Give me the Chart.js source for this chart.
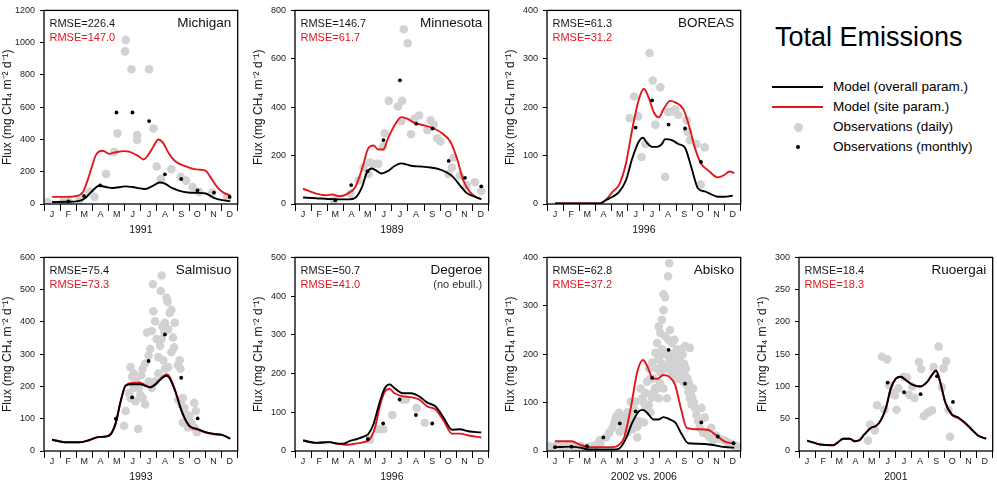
<!DOCTYPE html>
<html>
<head>
<meta charset="utf-8">
<script src="https://cdn.jsdelivr.net/npm/chart.js@4.4.0/dist/chart.umd.min.js"></script>
<style>
  body { margin: 0; background: #fff; width: 997px; height: 496px; position: relative; overflow: hidden;
         font-family: "Liberation Sans", Arial, sans-serif; }
  canvas { position: absolute; }
  .lg-title { position: absolute; left: 775px; top: 24px; font-size: 27px; line-height: 27px; color: #000; white-space: nowrap; }
  .lg-text { position: absolute; left: 833px; font-size: 13.5px; line-height: 20px; color: #000; white-space: nowrap; }
  .lg-line { position: absolute; left: 772px; width: 51px; height: 2px; }
  .lg-dot { position: absolute; border-radius: 50%; }
</style>
</head>
<body>
<canvas id="c1" width="242" height="240" style="left:0px;top:0px"></canvas>
<canvas id="c2" width="242" height="240" style="left:251px;top:0px"></canvas>
<canvas id="c3" width="242" height="240" style="left:503px;top:0px"></canvas>
<canvas id="c5" width="242" height="240" style="left:0px;top:247px"></canvas>
<canvas id="c6" width="242" height="240" style="left:251px;top:247px"></canvas>
<canvas id="c7" width="242" height="240" style="left:503px;top:247px"></canvas>
<canvas id="c8" width="242" height="240" style="left:755px;top:247px"></canvas>

<div class="lg-title">Total Emissions</div>
<div class="lg-line" style="top:86px;background:#000"></div>
<div class="lg-text" style="top:77px">Model (overall param.)</div>
<div class="lg-line" style="top:106px;background:#e2161d"></div>
<div class="lg-text" style="top:97px">Model (site param.)</div>
<div class="lg-dot" style="left:793.5px;top:122.5px;width:9px;height:9px;background:#d2d2d2"></div>
<div class="lg-text" style="top:117px">Observations (daily)</div>
<div class="lg-dot" style="left:796px;top:145px;width:4px;height:4px;background:#000"></div>
<div class="lg-text" style="top:137px">Observations (monthly)</div>

<script>
// month letters, x values are in months (0 = 1 Jan, 12 = 31 Dec)
var monthLabels = ["J", "F", "M", "A", "M", "J", "J", "A", "S", "O", "N", "D"];
var fluxTitle = "Flux (mg CH\u2084 m\u207B\u00B2 d\u207B\u00B9)";
var redColor = "#e2161d";

// ---- Michigan 1991
var michiganOverall = [[0.5,12],[1.41,14],[2.12,18],[2.52,34],[2.93,75],[3.43,113],[3.84,105],[4.24,99],[5.06,109],[5.46,105],[6.07,95],[6.27,93],[6.68,109],[7.18,133],[7.49,127],[7.89,101],[8.3,85],[8.91,71],[9.51,69],[10.02,65],[10.53,38],[11.03,24],[11.54,18]];
var michiganSite = [[0.5,44],[1.41,44],[2.02,50],[2.42,75],[2.83,186],[3.23,306],[3.64,330],[4.04,311],[4.45,321],[4.95,328],[5.36,321],[5.86,296],[6.17,276],[6.47,306],[6.78,357],[7.08,400],[7.39,377],[7.71,317],[8.11,266],[8.71,236],[9.31,216],[9.72,212],[10.02,206],[10.32,165],[10.73,105],[11.14,69],[11.54,54]];
var michiganDaily = [[0.19,10],[1.2,14],[1.51,18],[2.22,28],[2.83,75],[3.13,44],[3.84,186],[4.55,438],[4.35,323],[5.02,946],[5.06,1017],[5.42,835],[5.77,428],[5.77,397],[6.51,835],[6.78,468],[6.98,232],[7.24,155],[7.89,216],[8.46,169],[8.8,145],[9.21,105],[9.61,75],[10.43,71],[11.34,40]];
var michiganMonthly = [[1.51,16],[2.48,50],[3.48,115],[4.49,567],[5.48,567],[6.51,514],[7.49,184],[8.5,155],[9.51,85],[10.53,71],[11.5,44]];

// ---- Minnesota 1989
var minnesotaOverall = [[0.5,27],[1.31,24],[2.32,20],[3.34,19],[3.74,26],[4.15,70],[4.45,130],[4.75,147],[5.06,137],[5.36,126],[5.77,137],[6.17,157],[6.58,168],[6.88,164],[7.29,157],[7.79,155],[8.4,151],[8.91,144],[9.41,130],[9.82,110],[10.22,77],[10.63,46],[11.14,30],[11.54,20]];
var minnesotaSite = [[0.5,63],[1.31,43],[1.92,36],[2.32,39],[2.73,32],[3.34,46],[3.74,70],[4.15,144],[4.55,231],[4.86,242],[5.16,225],[5.46,225],[5.77,272],[6.17,325],[6.58,359],[6.98,352],[7.39,335],[8.0,325],[8.6,312],[9.11,292],[9.62,258],[10.02,191],[10.43,97],[10.83,50],[11.24,27],[11.54,20]];
var minnesotaDaily = [[2.42,16],[3.44,43],[3.94,97],[4.25,151],[4.55,124],[4.65,171],[4.86,164],[5.16,167],[5.46,238],[5.56,292],[5.81,426],[6.38,403],[6.58,342],[6.64,426],[6.74,722],[6.98,664],[7.19,288],[7.39,352],[7.69,366],[8.2,305],[8.4,346],[8.6,328],[8.81,272],[9.01,258],[9.52,124],[9.72,151],[9.82,191],[10.22,117],[10.63,77],[11.14,90],[11.54,54]];
var minnesotaMonthly = [[2.49,16],[3.48,78],[4.49,135],[5.48,264],[6.5,511],[7.51,332],[8.52,312],[9.52,178],[10.53,108],[11.54,73]];

// ---- BOREAS 1996
var boreasOverall = [[0.5,1],[3.25,1],[3.66,8],[4.06,15],[4.47,25],[4.88,48],[5.29,95],[5.69,129],[5.94,137],[6.2,126],[6.51,118],[6.82,118],[7.12,124],[7.32,134],[7.73,132],[8.14,124],[8.55,116],[8.95,75],[9.36,32],[9.77,26],[10.18,20],[10.58,15],[10.99,15],[11.5,17]];
var boreasSite = [[0.5,1],[3.25,1],[3.66,9],[4.06,25],[4.47,40],[4.88,82],[5.29,156],[5.69,216],[6.0,238],[6.31,219],[6.61,190],[6.92,179],[7.22,196],[7.63,213],[7.94,210],[8.44,196],[8.85,156],[9.16,116],[9.57,82],[9.97,70],[10.58,55],[10.99,60],[11.3,67],[11.6,64]];
var boreasDaily = [[5.12,177],[5.39,222],[5.65,181],[5.86,97],[6.1,124],[6.35,312],[6.55,255],[6.71,164],[7.02,241],[7.32,56],[7.49,190],[7.73,191],[7.94,195],[8.14,184],[8.65,173],[8.71,149],[8.85,132],[9.26,124],[9.52,40],[9.77,117]];
var boreasMonthly = [[5.49,158],[6.51,214],[7.53,164],[8.55,156],[9.54,87]];

// ---- Salmisuo 1993
var salmisuoOverall = [[0.5,35],[1.41,27],[2.22,27],[2.83,34],[3.34,43],[3.84,45],[4.15,53],[4.45,88],[4.75,154],[5.06,203],[5.46,207],[5.97,207],[6.27,202],[6.58,197],[6.88,205],[7.29,225],[7.59,233],[7.79,225],[8.1,189],[8.6,114],[9.01,78],[9.52,68],[10.02,58],[10.53,53],[11.04,50],[11.54,38]];
var salmisuoSite = [[0.5,35],[1.41,27],[2.22,27],[2.83,34],[3.34,43],[3.84,45],[4.15,53],[4.45,88],[4.75,154],[5.06,203],[5.46,211],[5.97,212],[6.27,204],[6.58,198],[6.88,207],[7.29,228],[7.59,238],[7.79,229],[8.1,192],[8.6,114],[9.01,76],[9.52,66],[10.02,57],[10.53,52],[11.04,49],[11.54,38]];
var salmisuoDaily = [[4.96,78],[5.06,124],[5.36,260],[5.46,230],[5.56,240],[5.26,179],[5.36,164],[5.67,154],[5.83,68],[5.56,195],[5.71,215],[5.87,195],[5.97,174],[6.11,164],[6.27,144],[6.03,235],[6.11,255],[6.27,271],[6.48,296],[6.58,316],[6.38,367],[6.68,372],[6.88,402],[6.78,433],[6.74,517],[6.98,347],[7.08,291],[7.19,326],[7.29,347],[7.33,387],[7.45,369],[7.49,397],[7.59,475],[7.65,463],[7.23,496],[7.29,544],[7.79,428],[7.89,438],[7.99,352],[8.1,397],[8.06,321],[7.89,306],[7.69,377],[7.69,260],[7.49,255],[7.39,281],[7.08,240],[6.88,215],[6.48,215],[6.68,195],[8.3,266],[8.4,281],[8.46,255],[8.6,164],[8.3,159],[8.5,144],[8.7,134],[8.81,114],[8.6,88],[9.01,108],[9.31,149],[9.41,124],[9.31,73],[9.47,58],[9.11,88],[8.91,73]];
var salmisuoMonthly = [[4.45,100],[5.46,166],[6.48,279],[7.49,361],[8.5,227],[9.52,101]];

// ---- Degeroe 1996
var degeroeOverall = [[0.5,27],[1.31,21],[2.12,23],[2.63,19],[3.03,19],[3.34,25],[3.84,31],[4.25,37],[4.55,44],[4.86,69],[5.26,128],[5.56,162],[5.87,172],[6.17,162],[6.68,149],[7.19,149],[7.69,141],[8.2,125],[8.71,115],[9.21,86],[9.72,55],[10.22,56],[10.73,51],[11.54,48]];
var degeroeSite = [[0.5,27],[1.31,21],[2.12,23],[2.63,19],[3.13,16],[3.74,19],[4.25,23],[4.65,31],[4.96,61],[5.26,116],[5.56,153],[5.87,160],[6.17,149],[6.68,141],[7.19,139],[7.69,133],[8.2,115],[8.71,107],[9.21,78],[9.72,45],[10.22,45],[10.73,40],[11.54,35]];
var degeroeDaily = [[4.65,29],[5.16,56],[5.46,56],[6.03,93],[6.68,133],[6.88,133],[7.53,111],[8.04,73]];
var degeroeMonthly = [[4.51,31],[5.46,71],[6.48,133],[7.49,93],[8.5,71]];

// ---- Abisko 2002 vs. 2006
var abiskoOverall = [[0.5,8],[1.52,9],[2.03,7],[2.64,3],[3.25,3],[4.06,3],[4.47,5],[4.88,25],[5.29,59],[5.69,82],[5.94,85],[6.2,79],[6.61,65],[6.92,65],[7.22,70],[7.63,65],[7.94,59],[8.34,35],[8.75,16],[9.36,15],[10.18,13],[10.79,9],[11.6,7]];
var abiskoSite = [[0.5,20],[1.21,20],[1.52,20],[2.03,13],[2.64,8],[3.25,8],[4.06,8],[4.47,13],[4.78,28],[5.19,89],[5.59,163],[5.94,188],[6.2,176],[6.51,152],[6.82,149],[7.22,157],[7.63,152],[7.94,136],[8.34,82],[8.65,48],[9.36,45],[9.97,44],[10.38,35],[10.99,20],[11.6,15]];
var abiskoDaily = [[0.1,10],[0.3,8],[0.6,12],[0.9,9],[1.2,10],[1.5,11],[1.8,8],[2.1,10],[2.4,7],[2.7,9],[3.0,12],[3.3,15],
  [3.25,22],[3.66,28],[3.86,38],[4.06,48],[4.17,59],[4.27,69],[4.37,75],[4.47,79],[4.68,62],[4.88,48],[4.98,38],[5.19,59],[5.29,75],[5.19,102],[5.49,102],[5.59,28],[5.45,59],[5.69,62],
  [4.5,40],[4.6,55],[4.8,70],[5.0,80],[5.1,65],[5.3,45],[5.4,85],[5.6,50],
  [5.8,129],[5.9,109],[6.1,89],[6.0,59],[6.2,143],[6.31,170],[6.41,149],[6.51,183],[6.61,122],[6.71,203],[6.82,223],[6.92,257],[7.02,244],[7.12,271],[7.22,291],[7.22,324],[7.32,318],[7.57,388],[7.5,361],[7.32,237],[7.12,210],[7.02,163],[6.88,129],[6.92,109],[7.22,129],[7.43,109],
  [6.0,100],[6.1,120],[6.3,95],[6.4,80],[6.5,110],[6.6,150],[6.7,130],[6.8,170],[6.9,190],[7.0,140],[7.1,180],[7.2,200],[7.3,170],[7.4,200],[7.5,180],[7.6,190],[7.7,200],[7.8,170],[7.9,230],[8.0,180],[8.1,150],[8.2,190],[8.4,200],[8.5,180],[8.6,170],[8.7,150],[8.8,140],[8.9,120],[9.0,110],[9.1,100],
  [7.53,230],[7.63,250],[7.73,223],[7.83,197],[7.94,183],[8.04,210],[8.14,203],[8.24,176],[8.34,163],[8.44,143],[8.55,156],[8.65,136],[8.75,122],[8.85,109],[8.95,96],[9.06,129],[9.16,89],[8.14,163],[8.34,210],[8.55,217],[8.85,213],[7.73,163],[7.94,149],
  [9.26,75],[9.36,62],[9.46,48],[9.67,38],[9.87,35],[10.07,28],[10.18,48],[10.28,22],[10.48,32],[10.69,25],[10.99,22],[11.19,18],[11.4,15],[11.7,11],[11.9,8],[9.77,69],[9.57,89],[11.3,12],[11.6,10]];
var abiskoMonthly = [[0.5,8],[1.52,9],[2.48,10],[3.49,28],[4.51,57],[5.49,82],[6.51,151],[7.53,209],[8.55,139],[9.56,59],[10.58,30],[11.56,16]];

// ---- Ruoergai 2001
var ruoergaiOverall = [[0.5,16],[0.91,13],[1.31,10],[2.13,9],[2.44,14],[2.74,19],[3.15,19],[3.45,15],[3.76,17],[4.06,26],[4.47,36],[4.78,39],[5.08,48],[5.39,67],[5.69,97],[6.0,112],[6.31,115],[6.61,110],[7.02,103],[7.53,100],[7.94,107],[8.24,118],[8.49,125],[8.75,107],[9.06,76],[9.46,57],[9.87,52],[10.28,44],[10.69,34],[11.09,24],[11.6,19]];
var ruoergaiSite = [[0.5,16],[0.91,13],[1.31,10],[2.13,9],[2.44,14],[2.74,19],[3.15,19],[3.45,15],[3.76,17],[4.06,26],[4.47,36],[4.78,39],[5.08,48],[5.39,67],[5.69,97],[6.0,112],[6.31,115],[6.61,110],[7.02,103],[7.53,100],[7.94,107],[8.24,118],[8.49,124],[8.75,106],[9.06,75],[9.46,56],[9.87,51],[10.28,43],[10.69,33],[11.09,24],[11.6,19]];
var ruoergaiDaily = [[4.27,16],[4.41,41],[4.7,32],[4.84,71],[5.14,146],[5.47,142],[5.29,64],[5.59,102],[5.8,90],[5.94,86],[6.16,97],[6.04,64],[6.47,115],[6.69,114],[6.82,87],[7.02,100],[7.16,82],[7.43,138],[7.57,127],[7.73,54],[7.94,59],[8.08,61],[8.24,63],[8.34,130],[8.65,162],[8.95,128],[9.12,139],[8.85,99],[9.26,64],[9.36,22]];
var ruoergaiMonthly = [[5.49,106],[6.51,91],[7.53,88],[8.55,116],[9.54,76]];

Chart.defaults.font.family = '"Liberation Sans", Arial, sans-serif';

function toXY(arr) {
    return arr.map(function (p) { return {x: p[0], y: p[1]}; });
}

// box around the plot area + RMSE and site labels
var panelText = {
    id: 'panelText',
    afterDatasetsDraw: function (chart, args, opts) {
        var ctx = chart.ctx;
        var a = chart.chartArea;
        ctx.save();
        ctx.strokeStyle = '#000';
        ctx.lineWidth = 1.3;
        ctx.strokeRect(a.left, a.top, a.right - a.left, a.bottom - a.top);
        ctx.textBaseline = 'middle';
        ctx.font = '11px "Liberation Sans", Arial, sans-serif';
        ctx.fillStyle = '#1a1a1a';
        ctx.fillText(opts.rmse[0], a.left + 5.5, a.top + 14);
        ctx.fillStyle = redColor;
        ctx.fillText(opts.rmse[1], a.left + 5.5, a.top + 27.5);
        ctx.textAlign = 'right';
        ctx.font = '13.5px "Liberation Sans", Arial, sans-serif';
        ctx.fillStyle = '#111';
        ctx.fillText(opts.name, a.right - 6.5, a.top + 12.5);
        if (opts.note) {
            ctx.font = '11px "Liberation Sans", Arial, sans-serif';
            ctx.fillStyle = '#333';
            ctx.fillText(opts.note, a.right - 6.5, a.top + 27.5);
        }
        ctx.restore();
    }
};

var xTickValues = [];
for (var t = 0; t <= 24; t++) xTickValues.push(t / 2);

function createPanel(id, p) {
    return new Chart(document.getElementById(id), {
        type: 'line',
        data: {
            datasets: [
                {type: 'scatter', data: toXY(p.monthly), backgroundColor: '#000', borderWidth: 0, pointRadius: 1.9, showLine: false},
                {data: toXY(p.overall), borderColor: '#000', borderWidth: 1.9, pointRadius: 0, cubicInterpolationMode: 'monotone', fill: false},
                {data: toXY(p.siteParam), borderColor: redColor, borderWidth: 1.9, pointRadius: 0, cubicInterpolationMode: 'monotone', fill: false},
                {type: 'scatter', data: toXY(p.daily), backgroundColor: '#d2d2d2', borderWidth: 0, pointRadius: 4.3, showLine: false}
            ]
        },
        options: {
            responsive: false,
            animation: false,
            events: [],
            layout: {padding: {top: 6, right: 1, left: 0, bottom: 0}},
            plugins: {
                legend: {display: false},
                tooltip: {enabled: false},
                panelText: {rmse: p.rmse, name: p.name, note: p.note}
            },
            scales: {
                x: {
                    type: 'linear', min: 0, max: 12,
                    afterBuildTicks: function (scale) {
                        scale.ticks = xTickValues.map(function (v) { return {value: v}; });
                    },
                    ticks: {
                        autoSkip: false, maxRotation: 0, padding: -2, color: '#222', font: {size: 9},
                        callback: function (v) { return Number.isInteger(v) ? '' : monthLabels[Math.floor(v)]; }
                    },
                    grid: {
                        drawOnChartArea: false, tickLength: 7, tickWidth: 1,
                        tickColor: function (c) { return (c.tick && Number.isInteger(c.tick.value)) ? '#000' : 'rgba(0,0,0,0)'; }
                    },
                    border: {display: false},
                    title: {display: true, text: p.year, color: '#111', font: {size: 10.5}, padding: {top: 0, bottom: 4}},
                    afterFit: function (scale) { scale.height = 36; }
                },
                y: {
                    min: 0, max: p.ymax,
                    ticks: {stepSize: p.step, color: '#222', font: {size: 9}, padding: 5,
                        callback: function (v) { return String(v); }},
                    grid: {drawOnChartArea: false, tickLength: 4, color: '#000'},
                    border: {display: false},
                    title: {display: true, text: fluxTitle, color: '#111', font: {size: 12}, padding: {top: 0, bottom: 0}},
                    afterFit: function (scale) { scale.width = 44; }
                }
            }
        },
        plugins: [panelText]
    });
}

createPanel('c1', {name: 'Michigan', year: '1991', rmse: ['RMSE=226.4', 'RMSE=147.0'], ymax: 1200, step: 200,
    overall: michiganOverall, siteParam: michiganSite, daily: michiganDaily, monthly: michiganMonthly});
createPanel('c2', {name: 'Minnesota', year: '1989', rmse: ['RMSE=146.7', 'RMSE=61.7'], ymax: 800, step: 200,
    overall: minnesotaOverall, siteParam: minnesotaSite, daily: minnesotaDaily, monthly: minnesotaMonthly});
createPanel('c3', {name: 'BOREAS', year: '1996', rmse: ['RMSE=61.3', 'RMSE=31.2'], ymax: 400, step: 100,
    overall: boreasOverall, siteParam: boreasSite, daily: boreasDaily, monthly: boreasMonthly});
createPanel('c5', {name: 'Salmisuo', year: '1993', rmse: ['RMSE=75.4', 'RMSE=73.3'], ymax: 600, step: 100,
    overall: salmisuoOverall, siteParam: salmisuoSite, daily: salmisuoDaily, monthly: salmisuoMonthly});
createPanel('c6', {name: 'Degeroe', note: '(no ebull.)', year: '1996', rmse: ['RMSE=50.7', 'RMSE=41.0'], ymax: 500, step: 100,
    overall: degeroeOverall, siteParam: degeroeSite, daily: degeroeDaily, monthly: degeroeMonthly});
createPanel('c7', {name: 'Abisko', year: '2002 vs. 2006', rmse: ['RMSE=62.8', 'RMSE=37.2'], ymax: 400, step: 100,
    overall: abiskoOverall, siteParam: abiskoSite, daily: abiskoDaily, monthly: abiskoMonthly});
createPanel('c8', {name: 'Ruoergai', year: '2001', rmse: ['RMSE=18.4', 'RMSE=18.3'], ymax: 300, step: 50,
    overall: ruoergaiOverall, siteParam: ruoergaiSite, daily: ruoergaiDaily, monthly: ruoergaiMonthly});
</script>
</body>
</html>
